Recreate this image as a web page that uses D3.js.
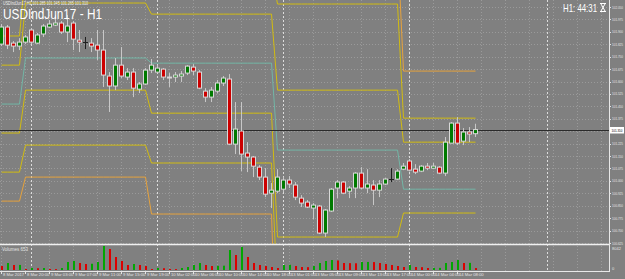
<!DOCTYPE html>
<html lang="en">
<head>
<meta charset="UTF-8">
<title>USDIndJun17 - H1</title>
<script src="https://d3js.org/d3.v7.min.js"></script>
<style>
  body { margin: 0; background: #808080; overflow: hidden; }
  svg { display: block; }
  text { font-family: "Liberation Sans", Arial, sans-serif; }
</style>
</head>
<body>
<svg width="625" height="279"></svg>
<script>
// H1 bars, oldest first
const opens  = [101.826,101.929,101.832,101.814,101.838,101.911,101.832,101.887,101.929,101.941,
                101.953,101.899,101.953,101.850,101.838,101.832,101.820,101.790,101.633,101.573,
                101.699,101.627,101.657,101.554,101.585,101.669,101.657,101.675,101.627,101.627,
                101.633,101.651,101.687,101.657,101.542,101.506,101.542,101.591,101.615,101.222,
                101.301,101.168,101.144,101.083,101.023,100.926,100.938,100.950,101.005,100.975,
                100.896,100.872,100.836,100.848,100.685,100.818,100.957,100.993,100.938,100.957,
                101.047,100.957,100.975,100.944,100.981,101.011,101.011,101.071,101.120,101.071,
                101.059,101.089,101.077,101.083,101.047,101.228,101.349,101.240,101.295,101.285];
const highs  = [101.947,101.941,101.844,101.862,101.881,101.923,101.893,101.947,101.971,102.001,
                101.965,102.001,101.965,101.911,101.869,101.862,101.911,101.911,101.657,101.742,
                101.808,101.681,101.681,101.597,101.681,101.736,101.699,101.681,101.651,101.657,
                101.663,101.699,101.705,101.669,101.560,101.567,101.609,101.633,101.645,101.476,
                101.476,101.234,101.150,101.095,101.077,100.987,101.071,101.023,101.029,100.993,
                100.914,100.884,100.866,100.854,100.830,100.957,101.005,100.999,100.969,101.053,
                101.083,101.071,101.005,101.005,101.017,101.077,101.071,101.108,101.132,101.101,
                101.095,101.108,101.108,101.089,101.265,101.355,101.385,101.319,101.325,101.345];
const lows   = [101.814,101.796,101.778,101.790,101.826,101.826,101.826,101.869,101.923,101.935,
                101.887,101.838,101.790,101.778,101.796,101.778,101.730,101.567,101.416,101.548,
                101.621,101.609,101.506,101.530,101.579,101.651,101.651,101.609,101.567,101.597,
                101.597,101.639,101.639,101.554,101.476,101.476,101.530,101.573,101.216,101.162,
                101.059,101.053,101.023,101.005,100.902,100.836,100.926,100.932,100.957,100.884,
                100.842,100.836,100.769,100.679,100.661,100.812,100.896,100.920,100.896,100.896,
                100.950,100.926,100.854,100.902,100.975,100.993,101.005,101.065,101.059,101.041,
                101.053,101.065,101.071,101.041,101.029,101.228,101.216,101.216,101.234,101.265];
const closes = [101.929,101.820,101.814,101.838,101.869,101.838,101.881,101.935,101.947,101.953,
                101.899,101.935,101.856,101.838,101.838,101.814,101.790,101.639,101.573,101.699,
                101.633,101.657,101.560,101.585,101.669,101.699,101.681,101.627,101.621,101.639,
                101.645,101.693,101.663,101.560,101.506,101.548,101.591,101.621,101.222,101.313,
                101.162,101.144,101.089,101.023,100.920,100.944,101.023,101.005,100.981,100.902,
                100.866,100.842,100.854,100.685,100.824,100.950,100.993,100.926,100.957,101.047,
                100.957,100.981,100.944,100.981,101.011,101.011,101.059,101.089,101.065,101.053,
                101.089,101.077,101.089,101.047,101.234,101.349,101.228,101.295,101.283,101.310];
const volumes = [1340,2345,1675,1700,335,670,600,670,335,300,
                 670,2680,3015,2345,2010,2100,2680,8042,7035,4355,
                 3015,1675,2010,1675,1340,335,670,600,335,300,
                 670,1005,1675,2345,1675,1340,1400,1450,6700,5025,
                 7705,4355,2345,1675,1340,1005,670,1675,1750,1340,
                 1005,950,1340,2345,3015,3350,3200,2345,2300,2250,
                 2680,2700,2650,2345,2010,1675,1340,1005,1675,1005,
                 950,670,700,720,2345,2680,3350,2345,2400,653];

// daily pivot levels: first bar of each session, then one value per session
const sessionStart = [0, 4, 25, 46, 67];
const r3Levels = [102.110, 102.599, 102.581, 102.436, 101.663];
const r2Levels = [101.875, 102.267, 102.279, 102.068, 101.379];
const r1Levels = [101.699, 102.074, 102.007, 101.548, 101.234];
const pLevels  = [101.464, 101.742, 101.711, 101.186, 100.950];
const s1Levels = [101.289, 101.548, 101.409, 100.661, 100.806];
const s2Levels = [101.053, 101.216, 101.108, 100.298, 100.522];
const s3Levels = [100.878, 101.023, 100.800, 99.773, 100.377];

const priceTicks = [102.050,101.975,101.900,101.825,101.750,101.675,101.600,101.525,101.450,101.375,
                    101.300,101.225,101.150,101.075,101.000,100.925,100.850,100.775,100.700,100.625];
const timeTickBars = [0,4,8,12,16,20,24,28,32,36,40,44,48,52,56,60,64,68,72,76];
const timeTickLabels = ["8 Mar 2017","8 Mar 20:00","9 Mar 03:00","9 Mar 07:00","9 Mar 11:00",
                        "9 Mar 15:00","9 Mar 19:00","10 Mar 02:00","10 Mar 06:00","10 Mar 10:00",
                        "10 Mar 14:00","10 Mar 18:00","13 Mar 01:00","13 Mar 05:00","13 Mar 09:00",
                        "13 Mar 13:00","13 Mar 17:00","14 Mar 00:00","14 Mar 04:00","14 Mar 08:00"];
const separatorBars = [5, 26, 47, 68, 91];
const volumeMax = 8042;

const plotRight = 609, mainBottom = 244, volBottom = 271;

const svg = d3.select("svg");
svg.append("rect").attr("width", 625).attr("height", 279).attr("fill", "#808080");

const x = d3.scaleLinear().domain([0, 100]).range([1, 601]);
const y = d3.scaleLinear().domain([100.625, 102.05]).range([243, 7]);
const yv = d3.scaleLinear().domain([0, volumeMax]).range([270, 246]);

svg.append("clipPath").attr("id", "main").append("rect")
  .attr("width", plotRight).attr("height", mainBottom);

// grid
const grid = svg.append("g").attr("stroke", "#9a9a9a").attr("stroke-dasharray", "1,2");
grid.selectAll("line.h").data(priceTicks).join("line")
  .attr("x1", 0).attr("x2", plotRight)
  .attr("y1", d => Math.round(y(d)) + 0.5).attr("y2", d => Math.round(y(d)) + 0.5);
grid.selectAll("line.v").data(d3.range(0, 101, 4)).join("line")
  .attr("x1", d => x(d) + 0.5).attr("x2", d => x(d) + 0.5)
  .attr("y1", 0).attr("y2", volBottom);

// period separators
svg.append("g").attr("stroke", "#dcdcdc").attr("stroke-dasharray", "2,2")
  .selectAll("line").data(separatorBars).join("line")
  .attr("x1", d => x(d) + 0.5).attr("x2", d => x(d) + 0.5)
  .attr("y1", 0).attr("y2", volBottom);

// pivot lines
const nBars = closes.length;
const sessionOf = i => d3.bisectRight(sessionStart, i) - 1;
const levelSets = [
  {vals: r3Levels, color: "#e6a23c"},
  {vals: s3Levels, color: "#e6a23c"},
  {vals: r2Levels, color: "#d2bc10"},
  {vals: s2Levels, color: "#d2bc10"},
  {vals: r1Levels, color: "#d2bc10"},
  {vals: s1Levels, color: "#d2bc10"},
  {vals: pLevels,  color: "#72b6a6"}
];
const lvl = svg.append("g").attr("clip-path", "url(#main)");
const lineGen = d3.line().x(d => x(d[0]) + 0.5).y(d => y(d[1]));
levelSets.forEach(s => {
  lvl.append("path")
    .attr("d", lineGen(d3.range(nBars).map(i => [i, s.vals[sessionOf(i)]])))
    .attr("fill", "none").attr("stroke", s.color).attr("stroke-width", 1);
});

// bid line
const lastClose = closes[nBars - 1];
svg.append("line").attr("x1", 0).attr("x2", plotRight)
  .attr("y1", Math.round(y(lastClose)) + 0.5).attr("y2", Math.round(y(lastClose)) + 0.5)
  .attr("stroke", "#2a2a2a");

// candles
const bars = d3.range(nBars).map(i => ({i, o: opens[i], h: highs[i], l: lows[i], c: closes[i]}));
const cg = svg.append("g").attr("clip-path", "url(#main)");
cg.selectAll("line.wick").data(bars).join("line")
  .attr("x1", d => x(d.i) + 0.5).attr("x2", d => x(d.i) + 0.5)
  .attr("y1", d => y(d.h)).attr("y2", d => y(d.l))
  .attr("stroke", d => d.o === d.c ? "#202020" : "#c8c8c8");
cg.selectAll("rect.body").data(bars.filter(d => d.o !== d.c)).join("rect")
  .attr("x", d => x(d.i) - 1.5).attr("width", 4)
  .attr("y", d => y(Math.max(d.o, d.c)))
  .attr("height", d => Math.max(1, Math.abs(y(d.o) - y(d.c))))
  .attr("fill", d => d.c > d.o ? "#007a00" : "#cc0000")
  .attr("stroke", "#d8d8d8").attr("stroke-width", 1);
cg.selectAll("line.doji").data(bars.filter(d => d.o === d.c)).join("line")
  .attr("x1", d => x(d.i) - 2).attr("x2", d => x(d.i) + 3)
  .attr("y1", d => Math.round(y(d.o)) + 0.5).attr("y2", d => Math.round(y(d.o)) + 0.5)
  .attr("stroke", "#202020");

// volumes
svg.selectAll("rect.vol").data(volumes).join("rect")
  .attr("x", (d, i) => x(i)).attr("width", 2)
  .attr("y", d => yv(d)).attr("height", d => 270 - yv(d))
  .attr("fill", (d, i) => i > 0 && d > volumes[i - 1] ? "#00a800" : "#dd0000");

// frame
svg.append("line").attr("x1", 0).attr("x2", plotRight + 1).attr("y1", 244.5).attr("y2", 244.5)
  .attr("stroke", "#f0f0f0").attr("stroke-width", 1.5);
svg.append("line").attr("x1", 0).attr("x2", plotRight + 1).attr("y1", volBottom + 0.5).attr("y2", volBottom + 0.5)
  .attr("stroke", "#e8e8e8");
svg.append("line").attr("x1", plotRight + 0.5).attr("x2", plotRight + 0.5).attr("y1", 0).attr("y2", volBottom)
  .attr("stroke", "#e8e8e8");

// price axis
const pa = svg.append("g").attr("fill", "#e4e4e4").attr("font-size", 4);
pa.selectAll("text").data(priceTicks).join("text")
  .attr("x", 612).attr("y", d => y(d) + 1.5)
  .attr("textLength", 11).attr("lengthAdjust", "spacingAndGlyphs")
  .text(d => d.toFixed(3));
svg.append("g").attr("stroke", "#e4e4e4").selectAll("line").data(priceTicks).join("line")
  .attr("x1", plotRight).attr("x2", plotRight + 2)
  .attr("y1", d => Math.round(y(d)) + 0.5).attr("y2", d => Math.round(y(d)) + 0.5);
const by = Math.round(y(lastClose));
svg.append("rect").attr("x", 610).attr("y", by - 3).attr("width", 14).attr("height", 6.5).attr("fill", "#ffffff");
svg.append("text").attr("x", 611.5).attr("y", by + 1.6).attr("font-size", 4).attr("fill", "#000")
  .attr("textLength", 11).attr("lengthAdjust", "spacingAndGlyphs")
  .text(lastClose.toFixed(3));

// volume labels
svg.append("text").attr("x", 612).attr("y", 249.5).attr("font-size", 4).attr("fill", "#e4e4e4").text(volumeMax);
svg.append("text").attr("x", 612).attr("y", 270).attr("font-size", 4).attr("fill", "#e4e4e4").text("0");
svg.append("text").attr("x", 2).attr("y", 251).attr("font-size", 4.5).attr("fill", "#e4e4e4")
  .text("Volumes " + volumes[nBars - 1]);

// time axis
const ta = svg.append("g");
timeTickBars.forEach((b, k) => {
  ta.append("line").attr("x1", x(b) + 0.5).attr("x2", x(b) + 0.5).attr("y1", volBottom).attr("y2", volBottom + 3)
    .attr("stroke", "#e4e4e4");
  ta.append("text").attr("x", x(b) + 2).attr("y", 276).attr("font-size", 4.2).attr("fill", "#e4e4e4")
    .text(timeTickLabels[k]);
});

// titles
svg.append("text").attr("x", 3).attr("y", 5).attr("font-size", 4.5).attr("fill", "#f0f0f0")
  .attr("textLength", 85).attr("lengthAdjust", "spacingAndGlyphs")
  .text(`USDIndJun17,H1  ${opens[nBars-1].toFixed(3)} ${highs[nBars-1].toFixed(3)} ${lows[nBars-1].toFixed(3)} ${lastClose.toFixed(3)}`);
svg.append("text").attr("x", 3).attr("y", 19).attr("font-size", 15).attr("fill", "#ffffff")
  .attr("textLength", 99).attr("lengthAdjust", "spacingAndGlyphs")
  .text("USDIndJun17 - H1");
svg.append("text").attr("x", 563).attr("y", 12).attr("font-size", 11).attr("fill", "#ffffff")
  .attr("textLength", 34).attr("lengthAdjust", "spacingAndGlyphs")
  .text("H1: 44:31");
svg.append("path").attr("d", "M600,3.5h6M600,11.5h6M601,4L605,11M605,4L601,11")
  .attr("stroke", "#ffffff").attr("fill", "none");
</script>
</body>
</html>
